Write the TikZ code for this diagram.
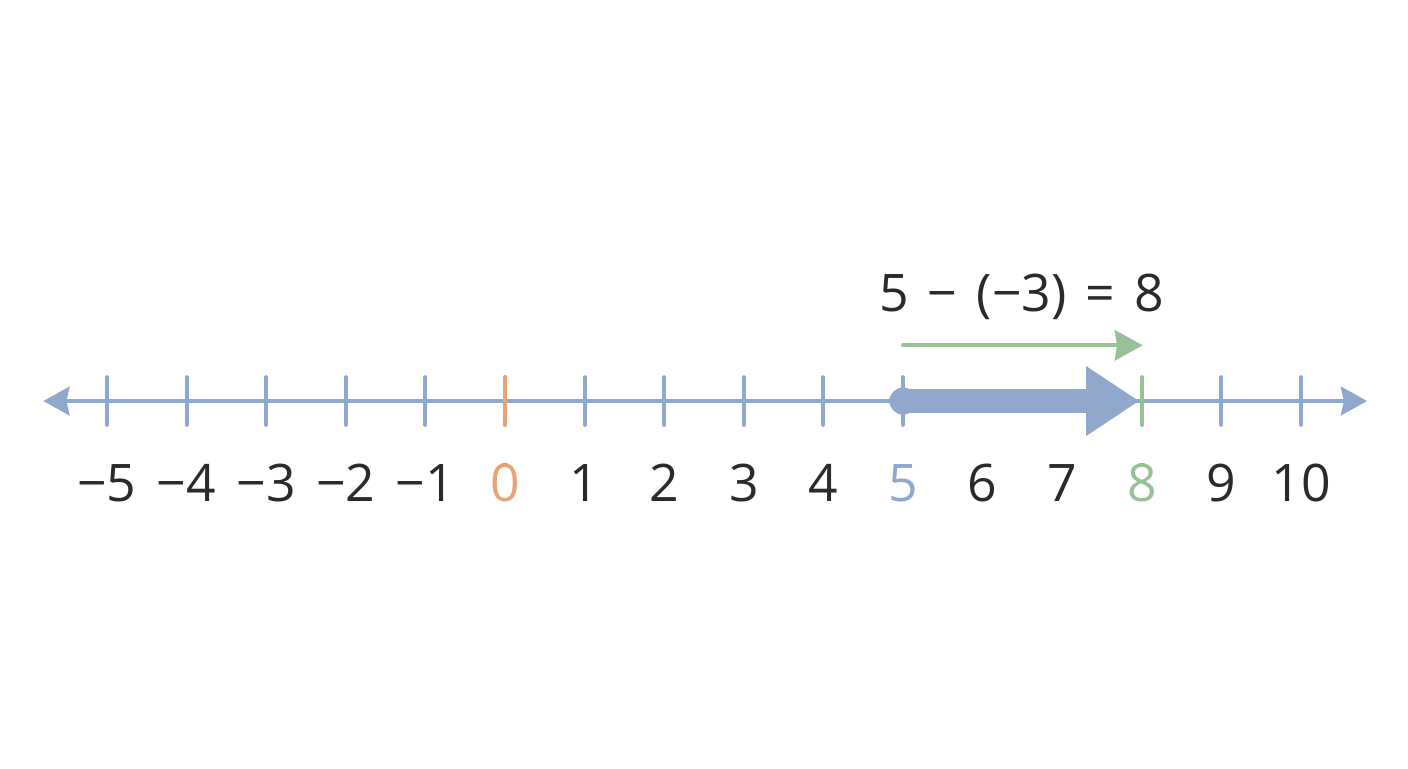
\documentclass[tikz,border=0pt]{standalone}
\usepackage{fontspec}
\setmainfont{Open Sans}
\usepackage{xcolor}
\usetikzlibrary{arrows.meta}
\usetikzlibrary{positioning}

\definecolor{lineblue}{HTML}{8FA8CC}
\definecolor{zeroorange}{HTML}{E8A477}
\definecolor{stepgreen}{HTML}{97BF98}
\definecolor{numblack}{HTML}{2B2A29}

\tikzset{
  numlabel/.style={text=numblack,font=\fontsize{18.5}{22}\selectfont,inner sep=0pt},
  tickmark/.style={lineblue,line width=1.4pt,line cap=round}
}

\begin{document}
\begin{tikzpicture}
\useasboundingbox (-6.344,-4.611) rectangle (11.344,5.038);
\coordinate (left) at (-5.8,0);
\coordinate (right) at (10.83,0);
\draw[lineblue,line width=1.4pt,{Stealth[length=0.33cm,width=0.36cm,inset=0.04cm]}-{Stealth[length=0.33cm,width=0.36cm,inset=0.04cm]}] (left) -- (right);
\foreach \i in {-5,...,10} {
  \coordinate (p\i) at (\i,0);
  \node[numlabel] (n\i) at (\i,-1.03) {\ifnum\i<0 −\the\numexpr-\i\relax\else\i\fi};
}
\foreach \i in {-5,...,5,9,10}
  \draw[tickmark] (\i,-0.3) -- (\i,0.3);
\draw[tickmark,zeroorange] (0,-0.3) -- (0,0.3);
\draw[tickmark,stepgreen] (8,-0.3) -- (8,0.3);
\node[numlabel,text=zeroorange,fill=white] at (n0) {0};
\node[numlabel,text=lineblue,fill=white] at (n5) {5};
\node[numlabel,text=stepgreen,fill=white] at (n8) {8};
% the move of -(-3)
\fill[lineblue] (p5) circle (0.17);
\draw[lineblue,line width=0.3cm,-{Triangle[length=0.67cm,width=0.83cm]}] (p5) -- (7.97,0);
\coordinate (gstart) at (5,0.7);
\coordinate (gend) at (8.01,0.7);
\draw[stepgreen,line width=1.4pt,line cap=round,-{Stealth[length=0.35cm,width=0.38cm,inset=0.03cm]}] (gstart) -- (gend);
\node[numlabel] (eq) at (6.49,1.31) {\spaceskip=0.37em 5 − (−3) = 8};
\end{tikzpicture}
\end{document}
